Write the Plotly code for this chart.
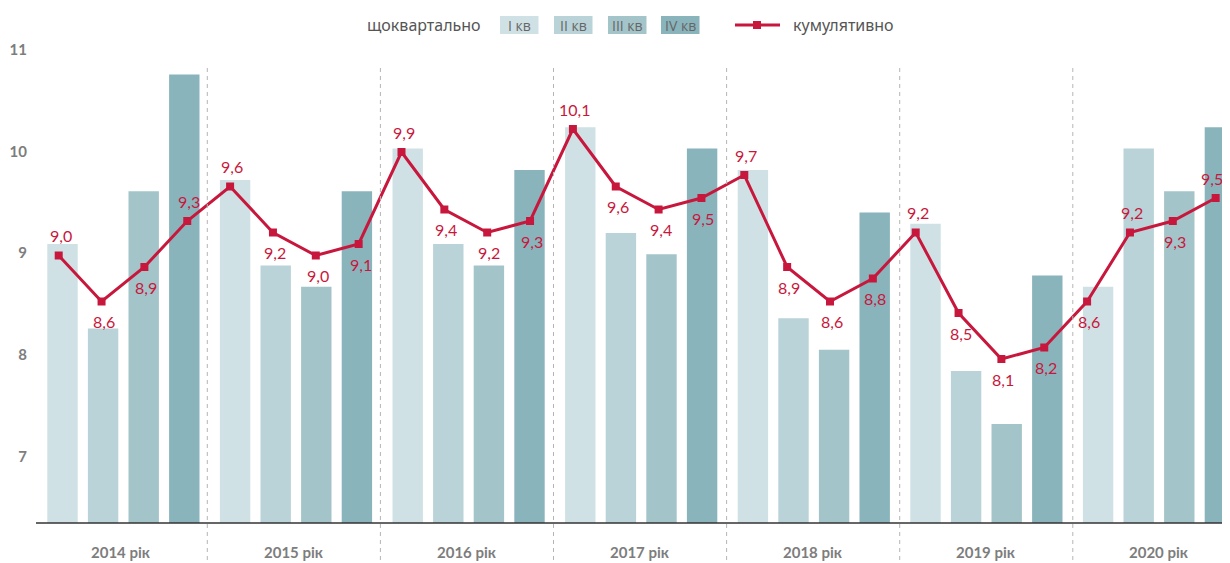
import plotly.graph_objects as go

# ---------------- data ----------------
years = ["2014 рік", "2015 рік", "2016 рік", "2017 рік", "2018 рік", "2019 рік", "2020 рік"]
quarters = ["I кв", "II кв", "III кв", "IV кв"]

# quarterly values (bars), per year: Q1..Q4
q1 = [9.09, 9.72, 10.03, 10.24, 9.82, 9.29, 8.67]
q2 = [8.26, 8.88, 9.09, 9.20, 8.36, 7.84, 10.03]
q3 = [9.61, 8.67, 8.88, 8.99, 8.05, 7.32, 9.61]
q4 = [10.76, 9.61, 9.82, 10.03, 9.40, 8.78, 10.24]

# cumulative values (line), chronological
cumulative = [9.0, 8.6, 8.9, 9.3,
              9.6, 9.2, 9.0, 9.1,
              9.9, 9.4, 9.2, 9.3,
              10.1, 9.6, 9.4, 9.5,
              9.7, 8.9, 8.6, 8.8,
              9.2, 8.5, 8.1, 8.2,
              8.6, 9.2, 9.3, 9.5]
# label side for each cumulative point: 1 above, -1 below
label_side = [1, -1, -1, 1,
              1, -1, -1, -1,
              1, -1, -1, -1,
              1, -1, -1, -1,
              1, -1, -1, -1,
              1, -1, -1, -1,
              -1, 1, -1, 1]

y_ticks = [7, 8, 9, 10, 11]

# ---------------- layout constants ----------------
OFF = 8                      # page body margin of the html page
W, H = 1230 - OFF, 563 - OFF
ML, MR, MT, MB = 36 - OFF, 0, 40 - OFF, 40
PW = W - ML - MR
PH = H - MT - MB

BAR_X0 = 26.5      # centre of first bar (px from plot left)
GROUP = 172.6      # pitch between year groups
PITCH = 40.6       # pitch between quarters inside group
BAR_W = 30.4
LINE_X0 = 22.7
LINE_PITCH = 42.85
DIV0 = 171.3
DIV_P = 173.1

bar_colors = ["#cfe1e5", "#b9d3d8", "#a3c4c9", "#8ab4bc"]
red = "#c8173c"
grey_txt = "#7d7d7d"

fig = go.Figure()

series = [q1, q2, q3, q4]
for qi, vals in enumerate(series):
    xs = [BAR_X0 + g * GROUP + qi * PITCH for g in range(len(years))]
    fig.add_trace(go.Bar(
        x=xs, y=vals, width=BAR_W, name=quarters[qi],
        marker=dict(color=bar_colors[qi], line=dict(width=0)),
        showlegend=False, yaxis="y", hoverinfo="y"))

line_x = [LINE_X0 + i * LINE_PITCH for i in range(len(cumulative))]
fig.add_trace(go.Scatter(
    x=line_x, y=cumulative, mode="lines+markers", name="кумулятивно",
    line=dict(color=red, width=3),
    marker=dict(symbol="square", size=8, color=red),
    showlegend=False, yaxis="y2"))

annotations = []
for i, (xv, v, s) in enumerate(zip(line_x, cumulative, label_side)):
    annotations.append(dict(
        x=xv + 2 - (6 if i == len(cumulative) - 1 else 0), y=v, xref="x", yref="y2",
        text=f"{v:.1f}".replace(".", ","),
        showarrow=False, yshift=20 * s,
        font=dict(family="Lato, Noto Sans, sans-serif", size=16, color=red)))

# year labels
for g, yl in enumerate(years):
    annotations.append(dict(
        x=DIV0 - DIV_P / 2 + g * DIV_P, y=-29 / PH, xref="x", yref="paper",
        text=f"<b>{yl}</b>", showarrow=False, yanchor="middle",
        font=dict(family="Lato, Noto Sans, sans-serif", size=15, color=grey_txt)))

# ---------------- legend (drawn) ----------------
def px(xp):
    return (xp - OFF - ML) / PW

def py(yp):
    return (H - MB - (yp - OFF)) / PH

leg_y = 25
annotations.append(dict(
    x=px(365), y=py(leg_y), xref="paper", yref="paper", xanchor="left", yanchor="middle",
    text="щоквартально", showarrow=False,
    font=dict(family="Noto Sans, sans-serif", size=16, color="#555555")))

box_left = [500, 554, 608, 661]
box_w = 38.5
shapes = []
for qi in range(4):
    shapes.append(dict(type="rect", xref="paper", yref="paper",
                       x0=px(box_left[qi]), x1=px(box_left[qi] + box_w),
                       y0=py(leg_y + 9), y1=py(leg_y - 9),
                       fillcolor=bar_colors[qi], line=dict(width=0)))
    annotations.append(dict(
        x=px(box_left[qi] + box_w / 2), y=py(leg_y), xref="paper", yref="paper",
        text=quarters[qi], showarrow=False, xanchor="center", yanchor="middle",
        font=dict(family="Open Sans, Noto Sans, sans-serif", size=14, color="#666666")))

shapes.append(dict(type="line", xref="paper", yref="paper",
                   x0=px(735), x1=px(780), y0=py(leg_y), y1=py(leg_y),
                   line=dict(color=red, width=3)))
shapes.append(dict(type="rect", xref="paper", yref="paper",
                   x0=px(753), x1=px(761), y0=py(leg_y + 4), y1=py(leg_y - 4),
                   fillcolor=red, line=dict(width=0)))
annotations.append(dict(
    x=px(791), y=py(leg_y), xref="paper", yref="paper", xanchor="left", yanchor="middle",
    text="кумулятивно", showarrow=False,
    font=dict(family="Noto Sans, sans-serif", size=16, color="#555555")))

# year dividers
for k in range(len(years) - 1):
    xd = DIV0 + k * DIV_P
    shapes.append(dict(type="line", xref="x", yref="paper",
                       x0=xd, x1=xd, y0=py(68), y1=py(563),
                       line=dict(color="#b5b5b5", width=1, dash="4px,4px"),
                       layer="above"))

# axis baseline
shapes.append(dict(type="line", xref="paper", yref="paper",
                   x0=0, x1=1, y0=0, y1=0,
                   line=dict(color="#333333", width=1.5), layer="above"))

# axis ranges chosen so pixels match the reference
y_lo, y_hi = 6.3445, 11.0984
y2_lo, y2_hi = 6.6739, 10.8739

fig.update_layout(
    width=W, height=H,
    margin=dict(l=ML, r=MR, t=MT, b=MB, pad=0, autoexpand=False),
    paper_bgcolor="white", plot_bgcolor="white",
    barmode="overlay",
    xaxis=dict(range=[0, PW], showgrid=False, zeroline=False, showticklabels=False,
               showline=False, fixedrange=True),
    yaxis=dict(range=[y_lo, y_hi], tickvals=y_ticks, ticktext=[f"<b>{t}</b>" for t in y_ticks],
               showgrid=False, zeroline=False, showline=False, ticks="",
               ticklabelstandoff=8, automargin=False,
               tickfont=dict(family="Lato, Noto Sans, sans-serif", size=15, color=grey_txt)),
    yaxis2=dict(range=[y2_lo, y2_hi], overlaying="y", visible=False),
    annotations=annotations,
    shapes=shapes,
    showlegend=False,
)

fig.write_html("out.html")
